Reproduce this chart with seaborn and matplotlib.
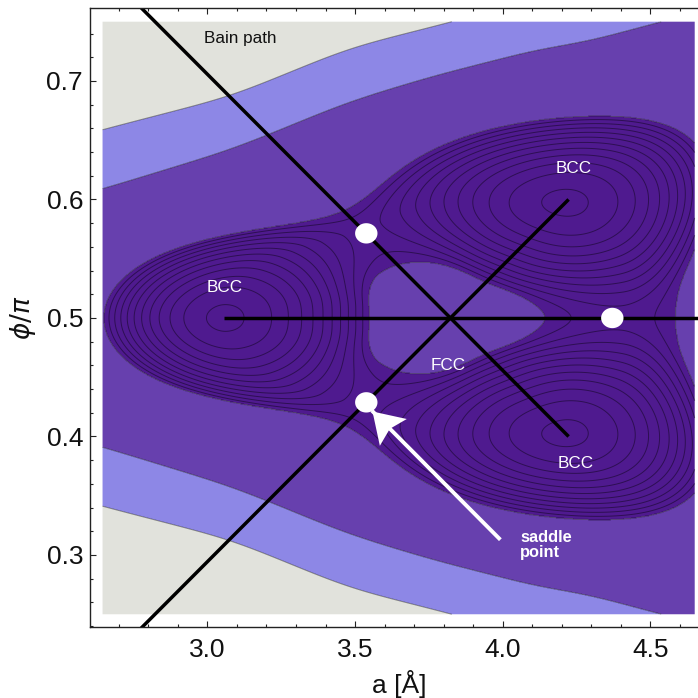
import numpy as np
import pandas as pd
import matplotlib
matplotlib.use("Agg")
import matplotlib.pyplot as plt
from matplotlib.path import Path
from matplotlib.markers import MarkerStyle
from matplotlib.transforms import Affine2D
import seaborn as sns

# ---------------- landscape parameters ----------------
# lattice constant a [Å] and angle phi/pi covered by the energy map
a_range = [2.645, 4.65]
phi_range = [0.25, 0.75]

# structures on the map
fcc_point = [3.8225, 0.5]
bcc_a = [3.055, 4.223, 4.223]
bcc_phi = [0.5, 0.6, 0.4]
saddle_a = [3.538, 3.538, 4.371]
saddle_phi = [0.5714, 0.4288, 0.5]

# ring-shaped valley around FCC (polar angle in degrees, radius in scaled units)
phi_scale = 6.93
valley_theta = [0, 30, 60, 90, 120, 150, 180]
valley_rho = [0.55, 0.66, 0.80, 0.68, 0.566, 0.68, 0.785]
outer_theta = [0, 15, 30, 45, 55, 60, 70, 80, 90, 100, 110, 120, 130, 140, 150, 160, 170, 180]
outer_rho = [0.75, 0.79, 0.96, 1.25, 1.40, 1.36, 1.255, 1.15, 1.035, 0.90, 0.76, 0.705,
             0.73, 0.81, 0.93, 1.07, 1.16, 1.19]
inner_theta = [0, 15, 30, 45, 60, 75, 90, 105, 120, 135, 150, 165, 180]
inner_rho = [0.33, 0.295, 0.262, 0.24, 0.235, 0.255, 0.295, 0.34, 0.36, 0.355, 0.314, 0.28, 0.271]
saddle_energy = 0.85

# outer high-energy bands: half-width |phi/pi - 0.5| of each band edge vs a
band1_a = [2.50, 2.645, 3.09, 3.48, 3.80, 3.92, 4.13, 4.27, 4.53, 4.80]
band1_d = [0.099, 0.109, 0.143, 0.183, 0.207, 0.214, 0.228, 0.232, 0.250, 0.266]
band2_a = [2.50, 2.645, 3.08, 3.48, 3.83, 4.20, 4.80]
band2_d = [0.149, 0.159, 0.187, 0.228, 0.250, 0.275, 0.32]

# Bain paths (start / end of each straight segment)
path_a = [[3.055, 4.75], [2.55, 4.223], [2.55, 4.223]]
path_phi = [[0.5, 0.5], [0.5 - 0.25 * (3.8225 - 2.55), 0.6], [0.5 + 0.25 * (3.8225 - 2.55), 0.4]]

# labels
label_text = ["Bain path", "BCC", "BCC", "BCC", "FCC"]
label_a = [3.111, 3.06, 4.239, 4.248, 3.814]
label_phi = [0.7354, 0.526, 0.6262, 0.3768, 0.460]
label_color = ["#111111", "white", "white", "white", "white"]
note_text = "saddle\npoint"
note_pos = [4.059, 0.3085]
arrow_tail = [3.992, 0.3129]
arrow_tip = [3.557, 0.4218]

fill_colors = ["#4f1a8f", "#6740ae", "#8d87e6", "#e1e2dc"]


def smooth_profile(knot_t, knot_v, sigma=6.0):
    """Periodic (mirror-symmetric) profile over 0..180 deg, lightly smoothed."""
    kt = np.asarray(knot_t, float)
    kv = np.asarray(knot_v, float)
    full_t = np.concatenate([-kt[::-1], kt[1:]])
    full_v = np.concatenate([kv[::-1], kv[1:]])
    grid = np.arange(-180, 180, 0.5)
    vals = np.interp(grid, full_t, full_v, period=360)
    k = np.arange(-60, 61) * 0.5
    w = np.exp(-0.5 * (k / sigma) ** 2)
    w /= w.sum()
    ext = np.concatenate([vals[-120:], vals, vals[:120]])
    sm = np.convolve(ext, w, mode="same")[120:-120]
    return lambda t: np.interp(t, grid, sm, period=360)


def smooth_edge(knot_a, knot_d, sigma=0.09):
    """Band edge as a smoothed curve through the knots."""
    grid = np.arange(knot_a[0], knot_a[-1], 0.005)
    vals = np.interp(grid, knot_a, knot_d)
    n = int(4 * sigma / 0.005)
    k = np.arange(-n, n + 1) * 0.005
    w = np.exp(-0.5 * (k / sigma) ** 2)
    w /= w.sum()
    ext = np.concatenate([np.full(n, vals[0]) - (vals[1] - vals[0]) * np.arange(n, 0, -1),
                          vals,
                          np.full(n, vals[-1]) + (vals[-1] - vals[-2]) * np.arange(1, n + 1)])
    sm = np.convolve(ext, w, mode="same")[n:-n]
    return lambda x: np.interp(x, grid, sm)


a_grid = np.linspace(a_range[0], a_range[1], 900)
p_grid = np.linspace(phi_range[0], phi_range[1], 900)
A, P = np.meshgrid(a_grid, p_grid)

X = A - fcc_point[0]
Y = (P - fcc_point[1]) * phi_scale
rho = np.hypot(X, Y)
theta = np.degrees(np.arctan2(np.abs(Y), X))

r_m = smooth_profile(valley_theta, valley_rho)(theta)
r_o = smooth_profile(outer_theta, outer_rho)(theta)
r_i = smooth_profile(inner_theta, inner_rho)(theta)
e_v = saddle_energy * (1 + np.cos(np.radians(3 * theta))) / 2
t = np.where(rho > r_m, (rho - r_m) / (r_o - r_m), (r_m - rho) / (r_m - r_i))
W = e_v + (1 - e_v) * t ** 2

d = np.abs(P - 0.5)
d1 = smooth_edge(band1_a, band1_d)(A)
d2 = smooth_edge(band2_a, band2_d)(A)
B = np.where(d < d1, 1.5 + 0.5 * d / d1, 2 + (d - d1) / (d2 - d1))
E = np.where(W < 1, W, B)

# ---------------- figure ----------------
sns.set_theme(style="ticks")
plt.rcParams["font.family"] = ["Liberation Sans", "DejaVu Sans"]
plt.rcParams["mathtext.fontset"] = "dejavusans"

fig = plt.figure(figsize=(6.98, 6.98), dpi=100)
W_px, H_px = 698, 698
ax = fig.add_axes([90 / W_px, 1 - 626.7 / H_px, (708 - 90) / W_px, (626.7 - 8.3) / H_px])
ax.set_facecolor("white")
ax.set_xlim(2.6025, 4.695)
ax.set_ylim(0.2395, 0.7613)

ax.contourf(A, P, E, levels=[-1, 1, 2, 3, 10], colors=fill_colors, antialiased=True)
ax.contour(A, P, E, levels=list(np.linspace(0.02, 1.0, 12)) + [2, 3],
           colors="black", linewidths=0.7, alpha=0.42)

for pa, pp in zip(path_a, path_phi):
    seg = pd.DataFrame({"a": pa, "phi": pp})
    sns.lineplot(data=seg, x="a", y="phi", color="black", linewidth=2.5,
                 sort=False, estimator=None, ax=ax, solid_capstyle="butt")

ang = np.linspace(0, 2 * np.pi, 60)
oval = Path(np.column_stack([1.1 * np.cos(ang), np.sin(ang)]))
dots = pd.DataFrame({"a": saddle_a, "phi": saddle_phi})
sns.scatterplot(data=dots, x="a", y="phi", marker=oval, s=260, color="white",
                edgecolor="none", linewidth=0, ax=ax, zorder=5)

for txt, xa, yp, c in zip(label_text, label_a, label_phi, label_color):
    ax.text(xa, yp, txt, color=c, fontsize=12.3, ha="center", va="center", zorder=6)

ax.text(note_pos[0], note_pos[1], note_text, color="white", fontsize=11.8,
        fontweight="bold", ha="left", va="center", linespacing=1.05, zorder=6)

# arrow: white shaft plus a notched head oriented along the shaft on screen
shaft = pd.DataFrame({"a": [arrow_tail[0], arrow_tip[0]], "phi": [arrow_tail[1], arrow_tip[1]]})
sns.lineplot(data=shaft, x="a", y="phi", color="white", linewidth=2.8, sort=False,
             estimator=None, ax=ax, solid_capstyle="butt", zorder=6)
p0 = ax.transData.transform(arrow_tail)
p1 = ax.transData.transform(arrow_tip)
heading = np.degrees(np.arctan2(p1[1] - p0[1], p1[0] - p0[0]))
head_path = Path([(0, 0), (-29.5, 19), (-24.5, 0), (-29.5, -19), (0, 0)],
                 [Path.MOVETO, Path.LINETO, Path.LINETO, Path.LINETO, Path.CLOSEPOLY])
head_marker = MarkerStyle(head_path, transform=Affine2D().rotate_deg(heading))
ax.scatter([arrow_tip[0]], [arrow_tip[1]], marker=head_marker, s=(2 * 29.5 * 0.72) ** 2,
           color="white", linewidths=0, zorder=7)

ax.set_xticks([3.0, 3.5, 4.0, 4.5])
ax.set_xticks(np.arange(2.7, 4.7, 0.1), minor=True)
ax.set_yticks([0.3, 0.4, 0.5, 0.6, 0.7])
ax.set_yticks(np.arange(0.24, 0.76, 0.02), minor=True)
ax.tick_params(which="both", direction="in", top=True, right=True, color="#222222",
               width=0.8, labelsize=19, labelcolor="#111111")
ax.tick_params(which="major", length=4)
ax.tick_params(which="minor", length=2.2)
ax.tick_params(axis="x", which="major", pad=8)
ax.tick_params(axis="y", which="major", pad=5)
for s in ax.spines.values():
    s.set_color("#222222")
    s.set_linewidth(1.0)

ax.set_xlabel("a [Å]", fontsize=19, labelpad=6, color="#111111")
ax.set_ylabel(r"$\phi/\pi$", fontsize=19, labelpad=6, color="#111111")

fig.savefig("out.png", dpi=100)
